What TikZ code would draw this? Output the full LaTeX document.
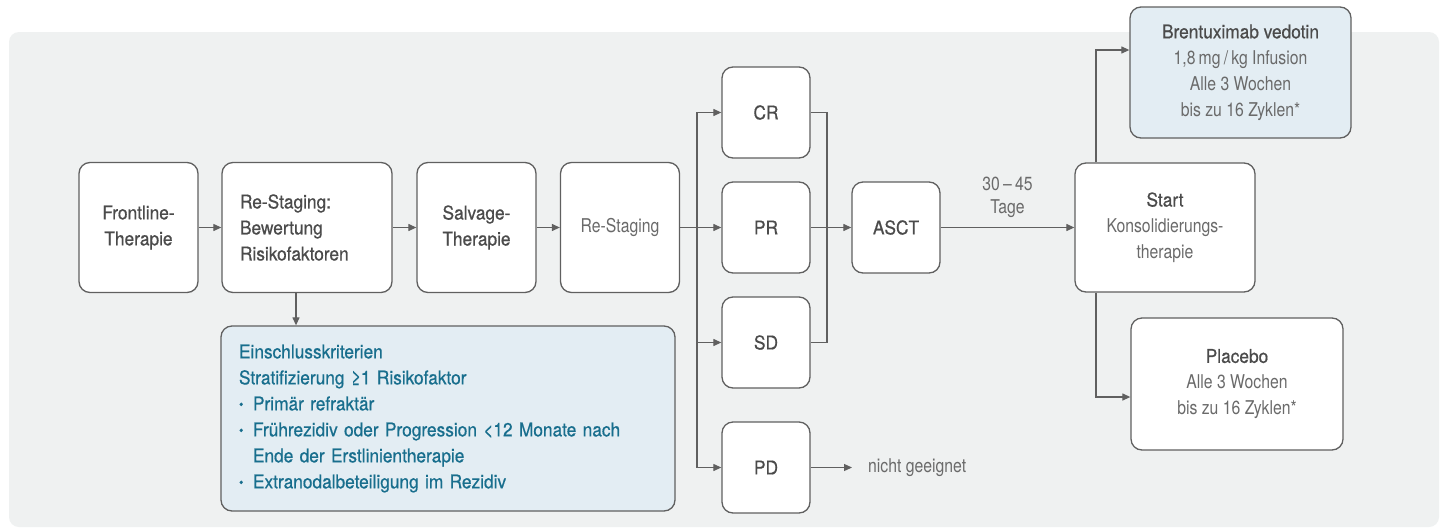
\documentclass[tikz,border=0pt]{standalone}
\usepackage{fontspec}
\setmainfont{TeX Gyre Heros}[FakeStretch=0.91, FakeBold=0.6]
\newfontfamily\lightfont{TeX Gyre Heros}[FakeStretch=0.83]
\usetikzlibrary{arrows.meta}

\definecolor{panelgray}{HTML}{EFF1F1}
\definecolor{boxline}{HTML}{606060}
\definecolor{medtext}{HTML}{4B4B4B}
\definecolor{lighttext}{HTML}{6A6A6A}
\definecolor{bluefill}{HTML}{E3EDF3}
\definecolor{critteal}{HTML}{186E8D}

\newcommand{\lt}[1]{{\lightfont\color{lighttext}#1}}
\newcommand{\critbul}{\makebox[14pt][l]{\raisebox{1.2pt}{\fontsize{14}{14}\selectfont\textbullet}}}

\tikzset{
  x=1pt, y=-1pt,
  flowbox/.style={draw=boxline, line width=1.3pt, rounded corners=11pt,
    fill=white, align=center, inner sep=0pt, text=medtext,
    font=\fontsize{19}{26}\selectfont},
  smallbox/.style={flowbox, minimum width=88pt, minimum height=91pt},
  stagebox/.style={flowbox, minimum width=119pt, minimum height=130pt},
  conn/.style={draw=boxline, line width=1.2pt,
    -{Triangle[length=8pt,width=7pt]}},
  plainline/.style={draw=boxline, line width=1.2pt},
}

\begin{document}
\begin{tikzpicture}
  \useasboundingbox (0,0) rectangle (1440,528);
  \fill[white] (0,0) rectangle (1440,528);
  \fill[panelgray, rounded corners=10pt] (9,32) rectangle (1439,527);

  % main sequence
  \node[stagebox] (front) at (138.5,227.5) {Frontline-\\Therapie};
  \node[stagebox, minimum width=170pt, text width=134pt, align=left]
    (rest) at (307,227.5) {Re-Staging:\\Bewertung\\Risikofaktoren};
  \node[stagebox] (salv) at (476.5,227.5) {Salvage-\\Therapie};
  \node[stagebox, font=\lightfont\fontsize{19}{26}\selectfont, text=lighttext]
    (restg) at (620,227.5) {Re-Staging};

  % response categories
  \node[smallbox] (cr) at (766,112.5) {CR};
  \node[smallbox] (pr) at (766,227.5) {PR};
  \node[smallbox] (sd) at (766,342.5) {SD};
  \node[smallbox] (pd) at (766,467.5) {PD};
  \node[smallbox] (asct) at (896,227.5) {ASCT};

  % consolidation and arms
  \node[flowbox, minimum width=180pt, minimum height=129pt]
    (start) at (1165,227.5) {Start\\\lt{Konsolidierungs-}\\\lt{therapie}};
  \node[flowbox, fill=bluefill, minimum width=221pt, minimum height=131pt]
    (brent) at (1240.5,72.5)
    {Brentuximab vedotin\\\lt{1,8\,mg\,/\,kg Infusion}\\\lt{Alle 3 Wochen}\\\lt{bis zu 16 Zyklen*}};
  \node[flowbox, minimum width=212pt, minimum height=132pt]
    (plac) at (1237,384)
    {Placebo\\\lt{Alle 3 Wochen}\\\lt{bis zu 16 Zyklen*}};

  % inclusion criteria
  \node[flowbox, fill=bluefill, text=critteal, minimum width=454pt,
    minimum height=185pt, text width=418pt, align=left]
    (crit) at (448,418.5)
    {Einschlusskriterien\\
     Stratifizierung ≥1 Risikofaktor\\
     \critbul Primär refraktär\\
     \critbul Frührezidiv oder Progression <12 Monate nach\\
     \hspace*{14pt}Ende der Erstlinientherapie\\
     \critbul Extranodalbeteiligung im Rezidiv};

  % side labels
  \node[font=\lightfont\fontsize{19}{23}\selectfont, text=lighttext,
    align=center, inner sep=0pt] (gap) at (1007.5,197) {30\,–\,45\\Tage};
  \node[font=\lightfont\fontsize{19}{26}\selectfont, text=lighttext,
    anchor=west, inner xsep=16pt, inner ysep=0pt]
    (ng) at (852,467.5) {nicht geeignet};

  % connectors
  \coordinate (split) at (697,227.5);
  \coordinate (merge) at (827,227.5);
  \coordinate (critx) at (296,0);
  \coordinate (tapx) at (1096,0);

  \draw[conn] (front.east) -- (rest.west);
  \draw[conn] (rest.east) -- (salv.west);
  \draw[conn] (salv.east) -- (restg.west);
  \draw[conn] (rest.south -| critx) -- (crit.north -| critx);

  \draw[conn] (restg.east) -- (pr.west);
  \draw[conn] (split) |- (cr.west);
  \draw[conn] (split) |- (sd.west);
  \draw[conn] (split) |- (pd.west);

  \draw[plainline] (cr.east) -| (merge);
  \draw[plainline] (sd.east) -| (merge);
  \draw[conn] (pr.east) -- (asct.west);
  \draw[conn] (asct.east) -- (start.west);
  \draw[conn] (pd.east) -- (ng.west);

  \draw[conn] (start.north -| tapx) |- ([yshift=22.5pt]brent.west);
  \draw[conn] (start.south -| tapx) |- ([yshift=-13pt]plac.west);
\end{tikzpicture}
\end{document}
